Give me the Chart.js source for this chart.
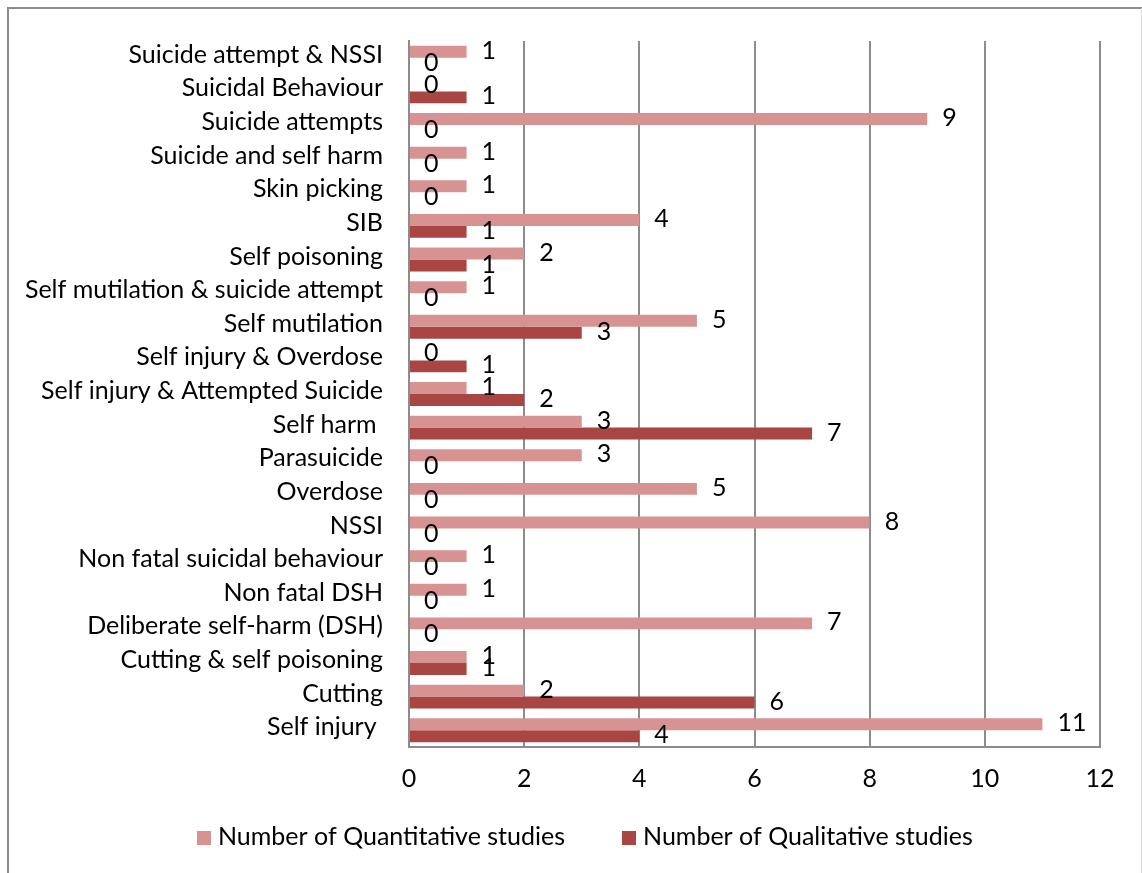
<!DOCTYPE html>
<html>
<head>
<meta charset="utf-8">
<script src="https://cdn.jsdelivr.net/npm/chart.js@4.4.1/dist/chart.umd.min.js"></script>
<style>
  html, body { margin: 0; padding: 0; background: #fff; }
  #wrap { width: 1142px; height: 873px; position: relative; }
</style>
</head>
<body>
<div id="wrap"><canvas id="c" width="1142" height="873"></canvas></div>
<script>
// Categories, listed top to bottom
const categories = [
  'Suicide attempt & NSSI',
  'Suicidal Behaviour',
  'Suicide attempts',
  'Suicide and self harm',
  'Skin picking',
  'SIB',
  'Self poisoning',
  'Self mutilation & suicide attempt',
  'Self mutilation',
  'Self injury & Overdose',
  'Self injury & Attempted Suicide',
  'Self harm ',
  'Parasuicide',
  'Overdose',
  'NSSI',
  'Non fatal suicidal behaviour',
  'Non fatal DSH',
  'Deliberate self-harm (DSH)',
  'Cutting & self poisoning',
  'Cutting',
  'Self injury '
];

const quantitative = [1, 0, 9, 1, 1, 4, 2, 1, 5, 0, 1, 3, 3, 5, 8, 1, 1, 7, 1, 2, 11];
const qualitative  = [0, 1, 0, 0, 0, 1, 1, 0, 3, 1, 2, 7, 0, 0, 0, 0, 0, 0, 1, 6, 4];

const seriesNames = ['Number of Quantitative studies', 'Number of Qualitative studies'];
const xMin = 0, xMax = 12, xStep = 2;

const FONT = 'Lato';
const FS = 25;

// Outer frame around the whole chart
const framePlugin = {
  id: 'frame',
  beforeDraw(chart) {
    const ctx = chart.ctx;
    ctx.save();
    ctx.strokeStyle = '#8c8c8c';
    ctx.lineWidth = 2;
    ctx.beginPath();
    ctx.moveTo(8, 880);
    ctx.lineTo(8, 8);
    ctx.lineTo(1142, 8);
    ctx.stroke();
    ctx.strokeStyle = '#dcdcdc';
    ctx.lineWidth = 1;
    ctx.beginPath();
    ctx.moveTo(1141.5, 8);
    ctx.lineTo(1141.5, 880);
    ctx.stroke();
    ctx.restore();
  }
};

// Value labels just past the end of each bar
const valueLabels = {
  id: 'valueLabels',
  afterDatasetsDraw(chart) {
    const ctx = chart.ctx;
    ctx.save();
    ctx.font = FS + 'px ' + FONT;
    ctx.fillStyle = '#000';
    ctx.textAlign = 'left';
    ctx.textBaseline = 'middle';
    chart.data.datasets.forEach((ds, di) => {
      chart.getDatasetMeta(di).data.forEach((bar, i) => {
        ctx.fillText(String(ds.data[i]), bar.x + 15, bar.y - 1);
      });
    });
    ctx.restore();
  }
};

// Series key along the bottom: square swatch followed by the series name
const seriesKey = {
  id: 'seriesKey',
  afterDraw(chart) {
    const ctx = chart.ctx;
    const cy = 837, box = 14, gap = 7, spacing = 57;
    let x = 197;
    ctx.save();
    ctx.font = FS + 'px ' + FONT;
    ctx.textAlign = 'left';
    ctx.textBaseline = 'middle';
    chart.data.datasets.forEach(ds => {
      ctx.fillStyle = ds.backgroundColor;
      ctx.fillRect(x, cy - box / 2 + 1, box, box);
      ctx.fillStyle = '#000';
      ctx.fillText(ds.label, x + box + gap, cy);
      x += box + gap + ctx.measureText(ds.label).width + spacing;
    });
    ctx.restore();
  }
};

new Chart(document.getElementById('c'), {
  type: 'bar',
  data: {
    labels: categories,
    datasets: [
      { label: seriesNames[0], data: quantitative, backgroundColor: '#d69391', borderWidth: 0 },
      { label: seriesNames[1], data: qualitative, backgroundColor: '#a94543', borderWidth: 0 }
    ]
  },
  options: {
    indexAxis: 'y',
    responsive: false,
    animation: false,
    devicePixelRatio: 1,
    categoryPercentage: 0.71,
    barPercentage: 1.0,
    layout: { padding: { left: 0, right: 42, top: 37, bottom: 0 } },
    scales: {
      x: {
        min: xMin,
        max: xMax,
        afterFit(scale) { scale.height = 126; },
        grid: { color: '#8c8c8c', lineWidth: 2, drawTicks: false },
        border: { display: true, color: '#8c8c8c', width: 2 },
        ticks: { stepSize: xStep, color: '#000', font: { family: FONT, size: FS }, padding: 17, maxRotation: 0, autoSkip: false }
      },
      y: {
        afterFit(scale) { scale.width = 409; },
        grid: { display: false, drawTicks: false },
        border: { display: true, color: '#8c8c8c', width: 2 },
        ticks: { color: '#000', font: { family: FONT, size: FS }, padding: 26, labelOffset: -3, autoSkip: false }
      }
    },
    plugins: {
      legend: { display: false },
      tooltip: { enabled: false }
    }
  },
  plugins: [framePlugin, valueLabels, seriesKey]
});
</script>
</body>
</html>
